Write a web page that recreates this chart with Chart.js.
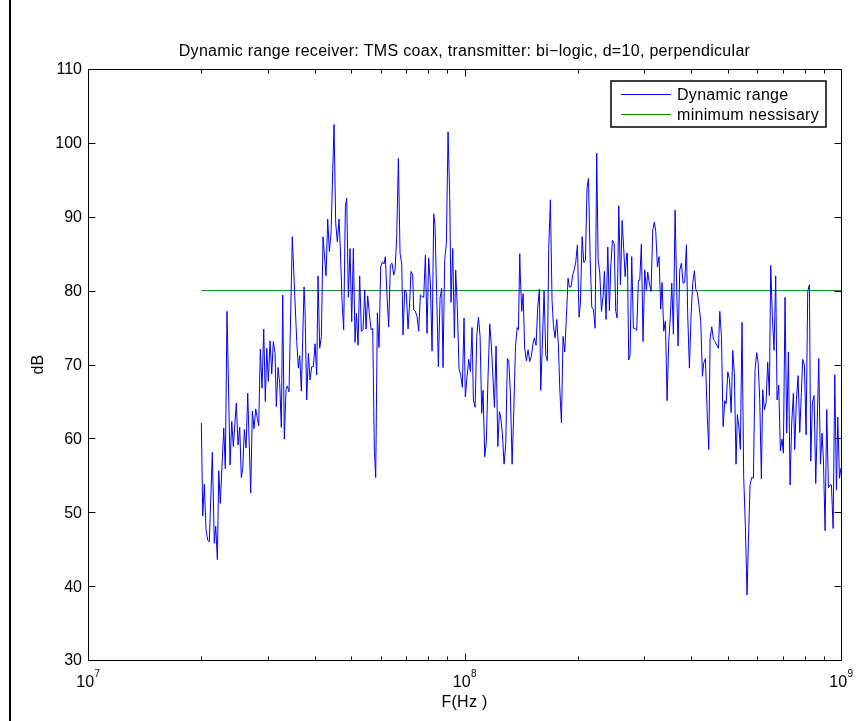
<!DOCTYPE html>
<html>
<head>
<meta charset="utf-8">
<script src="https://cdn.jsdelivr.net/npm/chart.js@4/dist/chart.umd.min.js"></script>
<style>
  html, body { margin: 0; padding: 0; background: #fff; }
  canvas { display: block; }
</style>
</head>
<body>
<canvas id="myChart" width="867" height="721"></canvas>
<script>
const freqMHz = [
  20.0, 20.17, 20.37, 20.58, 20.80, 21.00, 21.39, 21.65, 21.84, 22.06, 22.25, 22.46, 22.94, 23.16, 23.40, 23.84,
  24.09, 24.32, 24.77, 25.03, 25.29, 25.54, 25.76, 26.02, 26.29, 26.56, 27.05, 27.32, 27.60, 27.89, 28.17, 28.41,
  28.69, 28.99, 29.29, 29.58, 29.84, 30.13, 30.45, 30.76, 31.06, 31.39, 31.64, 31.97, 32.30, 32.62, 32.90, 33.22,
  33.57, 33.84, 34.19, 34.89, 35.41, 35.85, 36.20, 36.51, 36.87, 37.48,
  37.71, 38.10, 38.49, 38.88, 39.28, 39.68, 40.09, 40.50, 40.83, 41.25, 41.67, 42.10, 42.88, 43.32, 43.76, 44.21,
  45.03, 45.49, 45.95, 46.43, 46.81, 47.29, 47.77, 48.26, 48.65, 49.15, 49.66, 50.17, 50.68, 51.20, 51.62, 52.15,
  52.68, 53.22, 53.77, 54.32, 54.76, 55.32, 55.89, 56.46, 57.04, 57.62, 58.10, 58.69, 59.29, 59.90, 60.51, 61.13,
  61.63, 62.27, 62.90, 63.55, 64.20, 64.86, 65.39, 66.06, 66.74, 67.42, 68.11, 68.67, 69.37, 70.08, 70.80, 71.52,
  72.11, 72.85,
  73.29, 74.04, 74.81, 75.57, 76.35, 77.13, 77.92, 78.72, 79.52, 80.33, 81.16, 82.00, 82.84, 83.51, 84.37, 85.23,
  86.11, 86.99, 87.70, 88.60, 89.51, 90.43, 91.35, 92.09, 93.05, 94.00, 94.76, 95.74, 96.72, 97.71, 98.71, 99.72,
  100.5, 101.6, 102.6, 103.7, 104.7, 105.6, 106.7, 107.8, 108.9, 110.0, 111.1, 112.0, 113.2, 114.3, 115.5, 116.7,
  117.9, 119.1, 120.1, 121.3, 122.6, 123.8, 124.8, 126.1, 127.4, 128.7, 130.0, 131.1, 132.4, 133.8, 135.2, 136.6,
  138.0, 139.1, 140.2,
  140.7, 141.9, 143.1, 144.5, 146.0, 147.5, 149.0, 150.5, 152.1, 153.3, 154.9, 156.5, 158.1, 159.4, 161.0, 162.7,
  164.4, 166.0, 167.4, 169.1, 170.8, 172.2, 174.0, 175.8, 177.6, 179.0, 180.9, 182.7, 184.6, 186.5, 188.4, 189.9,
  191.9, 193.8, 195.8, 197.4, 199.5, 201.5, 203.2, 205.3, 207.4, 209.5, 211.6, 213.4, 215.6, 217.8, 220.0, 222.3,
  224.5, 226.4, 228.7, 231.1, 233.4, 235.3, 237.7, 240.2, 242.6, 244.6, 247.1, 249.7, 252.2, 254.3, 256.9, 259.6,
  262.2, 264.9, 267.1, 269.8,
  270.8, 273.0, 275.3, 278.1, 280.9, 283.8, 286.7, 289.7, 292.0, 295.0, 298.0, 301.1, 304.2, 306.7, 309.8, 313.0,
  316.2, 319.4, 322.1, 325.4, 328.7, 332.0, 334.8, 338.2, 341.7, 345.2, 348.7, 352.3, 355.2, 358.8, 362.5, 366.2,
  369.2, 373.0, 376.8, 380.7, 384.6, 388.5, 391.7, 395.7, 399.8, 403.9, 408.0, 411.4, 415.6, 419.9, 424.2, 428.5,
  432.0, 436.5, 440.9, 445.5, 449.1, 453.7, 458.4, 463.1, 467.8, 472.6, 476.5, 481.4, 486.3, 491.3, 495.4, 500.4,
  505.6, 510.8, 516.0,
  520.9, 526.3, 530.5, 536.0, 540.4, 545.9, 551.5, 557.2, 562.9, 567.5, 573.3, 579.2, 585.2, 591.2, 597.2, 602.1,
  608.3, 614.5, 619.5, 625.9, 632.3, 638.7, 645.3, 650.6, 657.2, 664.0, 670.8, 676.3, 683.2, 690.2, 697.3, 703.0,
  710.2, 717.5, 724.9, 732.3, 739.8, 747.4, 753.6, 761.3, 769.1, 777.0, 784.9, 791.4, 799.5, 807.7, 815.9, 824.3,
  831.1, 839.6, 848.2, 856.9, 863.9, 872.8, 881.8, 890.8, 898.1, 907.3, 916.6, 926.0, 935.5, 943.2, 952.9, 962.7,
  972.5, 980.5, 990.6, 1000
];

const dynamicRange = [
  62.1, 49.5, 53.8, 47.6, 46.2, 46.0, 58.1, 45.8, 48.1, 43.6, 55.6, 51.2, 61.4, 55.9, 77.2, 56.4,
  62.3, 58.9, 64.8, 59.1, 61.5, 54.7, 55.9, 61.2, 58.7, 66.1, 52.6, 63.7, 61.3, 64.0, 62.7, 61.7,
  72.1, 66.8, 74.8, 65.0, 72.2, 67.7, 73.2, 68.7, 73.1, 71.6, 64.3, 69.6, 67.4, 61.5, 79.4, 59.9,
  66.6, 67.1, 66.3, 87.3, 79.4, 73.1, 69.5, 71.2, 66.4, 80.5,
  77.4, 65.2, 71.5, 67.9, 69.7, 69.7, 72.8, 68.6, 82.0, 72.2, 73.8, 87.3, 82.0, 89.7, 85.3, 87.8,
  102.5, 89.1, 86.6, 89.7, 85.5, 78.5, 74.7, 91.4, 92.5, 79.1, 85.7, 75.8, 85.7, 73.0, 76.9, 72.6,
  82.0, 74.5, 74.7, 80.1, 74.8, 79.3, 76.9, 74.7, 74.9, 58.4, 54.7, 77.0, 72.3, 83.2, 83.9, 83.6,
  84.6, 79.2, 75.1, 83.5, 83.7, 82.1, 82.8, 87.3, 97.9, 85.1, 83.6, 74.0, 80.1, 79.7, 74.8, 78.5,
  82.6, 82.1,
  77.4, 77.2, 76.5, 74.5, 79.4, 79.2, 79.1, 84.8, 74.2, 84.4, 81.0, 71.8, 90.4, 88.7, 79.2, 69.7,
  79.0, 80.3, 69.6, 84.2, 86.4, 101.5, 92.7, 78.4, 85.7, 73.6, 82.8, 77.4, 69.4, 68.6, 66.9, 76.3,
  65.6, 68.4, 70.7, 69.0, 75.0, 65.2, 64.2, 73.8, 76.4, 73.8, 63.4, 66.5, 57.5, 59.6, 68.4, 75.5,
  72.4, 67.9, 64.2, 72.5, 58.9, 63.6, 62.9, 60.5, 56.5, 59.3, 70.8, 70.5, 66.1, 56.5, 63.9, 72.4,
  75.0, 74.7, 85.0,
  82.1, 77.2, 79.6, 72.2, 70.5, 72.0, 70.4, 71.1, 72.9, 73.6, 72.6, 77.8, 80.2, 66.5, 72.9, 80.0,
  71.2, 70.5, 85.7, 92.3, 78.7, 75.4, 73.6, 76.1, 72.6, 67.0, 62.1, 73.8, 71.7, 76.5, 81.7, 80.5,
  80.5, 82.1, 82.9, 83.8, 86.2, 76.4, 78.3, 87.3, 83.8, 84.1, 93.9, 95.2, 84.6, 77.8, 77.4, 74.9,
  98.6, 84.2, 82.4, 77.2, 79.3, 82.6, 76.1, 85.9, 77.3, 83.2, 86.8, 86.4, 77.2, 76.3, 91.5, 80.8,
  89.5, 85.5, 81.9, 85.1,
  85.0, 70.6, 71.3, 84.6, 74.9, 74.9, 74.6, 81.4, 81.4, 86.3, 73.1, 82.8, 80.1, 82.5, 80.9, 79.9,
  88.2, 89.3, 88.0, 83.2, 84.6, 77.5, 81.1, 74.5, 75.9, 65.1, 73.1, 76.7, 81.0, 74.1, 90.9, 79.9,
  72.5, 82.8, 83.7, 81.0, 81.1, 86.2, 76.6, 69.5, 76.7, 81.0, 82.7, 80.2, 79.7, 77.8, 75.8, 68.4,
  70.2, 70.8, 63.6, 58.5, 73.5, 75.1, 73.4, 73.1, 72.6, 72.2, 77.2, 73.8, 61.6, 65.1, 64.7, 69.0,
  68.0, 63.5, 71.9,
  68.8, 56.5, 63.2, 61.4, 58.5, 75.7, 54.8, 48.1, 38.8, 45.8, 53.7, 54.7, 54.6, 69.3, 71.6, 70.4,
  65.3, 54.5, 66.6, 63.9, 64.8, 70.3, 65.8, 83.4, 76.5, 71.9, 82.0, 65.2, 67.2, 58.3, 59.9, 58.0,
  79.1, 60.7, 71.7, 53.7, 62.1, 66.1, 58.5, 65.2, 68.5, 60.8, 66.2, 70.7, 69.9, 60.5, 79.9, 80.8,
  56.9, 64.8, 65.8, 53.9, 61.2, 70.8, 56.5, 60.7, 57.1, 47.5, 63.9, 53.3, 53.7, 53.7, 47.8, 68.6,
  53.0, 62.9, 54.6, 56.0
];

// Minimum necessary level, drawn over the measured band
const minimumBandMHz = [20, 1000];
const minimumLevel = [80, 80];

// Axis ticks
const yTicks = [30, 40, 50, 60, 70, 80, 90, 100, 110];
const xDecades = [7, 8, 9];
const xMinorSteps = [2, 3, 4, 5, 6, 7, 8, 9];

const FONT = "'Liberation Sans', Arial, Helvetica, sans-serif";

const matlabAxes = {
    id: 'matlabAxes',
    afterDraw(chart)
    {
        const {ctx, chartArea: a, scales: {x, y}} = chart;
        const L = a.left + 0.5, R = a.right + 0.5, T = a.top + 0.5, B = a.bottom + 0.5;

        ctx.save();
        ctx.strokeStyle = '#000';
        ctx.lineWidth = 1;

        // axes box
        ctx.strokeRect(L, T, R - L, B - T);

        // y ticks, inward on both sides
        ctx.beginPath();
        yTicks.forEach(v => {
            const py = Math.round(y.getPixelForValue(v)) + 0.5;
            ctx.moveTo(L, py); ctx.lineTo(L + 7, py);
            ctx.moveTo(R, py); ctx.lineTo(R - 7, py);
        });
        // x ticks, major and minor
        xDecades.forEach((d, i) => {
            const px = Math.round(x.getPixelForValue(Math.pow(10, d))) + 0.5;
            ctx.moveTo(px, B); ctx.lineTo(px, B - 7);
            ctx.moveTo(px, T); ctx.lineTo(px, T + 7);
            if (i < xDecades.length - 1) {
                xMinorSteps.forEach(m => {
                    const mx = Math.round(x.getPixelForValue(m * Math.pow(10, d))) + 0.5;
                    ctx.moveTo(mx, B); ctx.lineTo(mx, B - 4);
                    ctx.moveTo(mx, T); ctx.lineTo(mx, T + 4);
                });
            }
        });
        ctx.stroke();

        // y tick labels
        ctx.fillStyle = '#000';
        ctx.font = '16px ' + FONT;
        ctx.textAlign = 'right';
        ctx.textBaseline = 'middle';
        yTicks.forEach(v => {
            ctx.fillText(String(v), a.left - 6, y.getPixelForValue(v) + 1);
        });

        // x tick labels as 10^n
        ctx.textBaseline = 'alphabetic';
        ctx.textAlign = 'left';
        xDecades.forEach(d => {
            const px = x.getPixelForValue(Math.pow(10, d));
            ctx.font = '16px ' + FONT;
            const wBase = ctx.measureText('10').width;
            ctx.font = '10px ' + FONT;
            const wExp = ctx.measureText(String(d)).width;
            const start = px - (wBase + wExp) / 2;
            ctx.font = '16px ' + FONT;
            ctx.fillText('10', start, a.bottom + 27);
            ctx.font = '10px ' + FONT;
            ctx.fillText(String(d), start + wBase + 0.5, a.bottom + 17);
        });

        // axis titles
        ctx.font = '16px ' + FONT;
        ctx.letterSpacing = '0.3px';
        ctx.textAlign = 'center';
        ctx.fillText('F(Hz )', (a.left + a.right) / 2, a.bottom + 47);
        ctx.save();
        ctx.translate(43, (a.top + a.bottom) / 2);
        ctx.rotate(-Math.PI / 2);
        ctx.textBaseline = 'alphabetic';
        ctx.fillText('dB', 0, 0);
        ctx.restore();

        // title
        ctx.fillText('Dynamic range receiver: TMS coax, transmitter: bi\u2212logic, d=10, perpendicular',
            (a.left + a.right) / 2, a.top - 13);

        // legend box
        const lx = 611, ly = 81, lw = 215, lh = 46;
        ctx.fillStyle = '#fff';
        ctx.fillRect(lx, ly, lw, lh);
        ctx.lineWidth = 1.5;
        ctx.strokeRect(lx, ly, lw, lh);
        ctx.lineWidth = 1;
        ctx.textAlign = 'left';
        ctx.textBaseline = 'middle';
        chart.data.datasets.forEach((ds, i) => {
            const ry = ly + 13.5 + i * 20;
            ctx.strokeStyle = ds.borderColor;
            ctx.beginPath();
            ctx.moveTo(lx + 10, ry);
            ctx.lineTo(lx + 60, ry);
            ctx.stroke();
            ctx.fillStyle = '#000';
            ctx.fillText(ds.label, lx + 66, ry + 1);
        });

        // figure frame, left edge only
        ctx.fillStyle = '#000';
        ctx.fillRect(9, 0, 2, 721);
        ctx.restore();
    }
};

const config = {
    type: 'line',
    data: {
        datasets: [
            {
                label: 'Dynamic range',
                data: freqMHz.map((f, i) => ({x: f * 1e6, y: dynamicRange[i]})),
                borderColor: '#0000ff',
                borderWidth: 1,
                pointRadius: 0,
                tension: 0,
            },
            {
                label: 'minimum nessisary',
                data: minimumBandMHz.map((f, i) => ({x: f * 1e6, y: minimumLevel[i]})),
                borderColor: '#008000',
                borderWidth: 1,
                pointRadius: 0,
                tension: 0,
            },
        ],
    },
    options: {
        responsive: false,
        animation: false,
        devicePixelRatio: 1,
        layout: {padding: {left: 88, top: 69, right: 26, bottom: 61}},
        plugins: {
            legend: {display: false},
            title: {display: false},
            tooltip: {enabled: false},
        },
        scales: {
            x: {type: 'logarithmic', min: 1e7, max: 1e9, display: false},
            y: {type: 'linear', min: 30, max: 110, display: false},
        },
    },
    plugins: [matlabAxes],
};

new Chart(document.getElementById('myChart').getContext('2d'), config);
</script>
</body>
</html>
